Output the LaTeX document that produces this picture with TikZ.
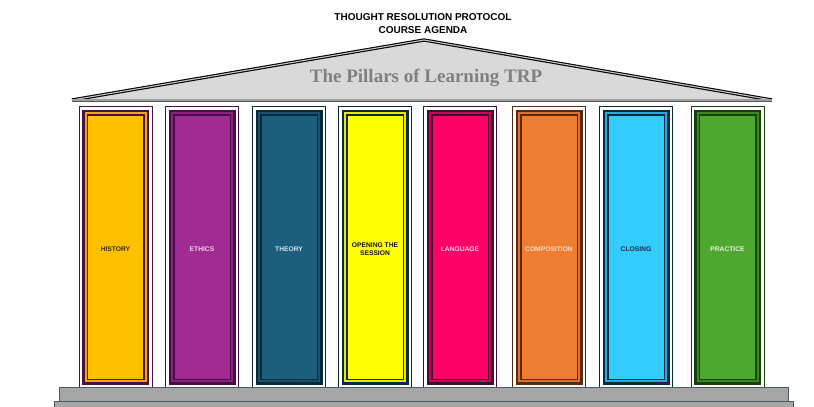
\documentclass[tikz,border=0pt]{standalone}
\usepackage{fontspec}
\setmainfont{Liberation Serif}
\setsansfont{Liberation Sans}
\usetikzlibrary{positioning}

\tikzset{
  shaft/.style={rectangle, inner sep=0pt, outer sep=0pt},
  shaft label/.style={font=\sffamily\bfseries\fontsize{6.7}{7.6}\selectfont, align=center, inner sep=0pt},
  roof line/.style={line width=1.1pt, draw=black, double=gray!45, double distance=1.1pt, line join=miter},
  beam/.style={line width=0.8pt, draw=black!65, double=gray!75, double distance=1.4pt},
  plinth/.style={fill=plinthGray, draw=plinthEdge, line width=0.9pt}
}
\definecolor{roofGray}{HTML}{D9D9D9}
\definecolor{roofText}{HTML}{808080}
\definecolor{plinthGray}{HTML}{A6A6A6}
\definecolor{plinthEdge}{HTML}{4A5A62}

\begin{document}
\begin{tikzpicture}[x=1pt,y=-1pt]
\useasboundingbox (0,0) rectangle (814,407);
% heading
\node[font=\sffamily\bfseries\fontsize{10}{13}\selectfont, align=center] (title) at (423,23.5) {THOUGHT RESOLUTION PROTOCOL\\COURSE AGENDA};
% roof
\coordinate (eaveL) at (72,100);
\coordinate (eaveR) at (772,100);
\coordinate (apex) at (424,40);
\fill[roofGray] (eaveL) -- (apex) -- (eaveR) -- cycle;
\draw[roof line] (eaveL) -- (apex) -- (eaveR);
\draw[beam] (eaveL) -- (eaveR);
\node[font=\bfseries\fontsize{19}{22}\selectfont, text=roofText] (pediment) at (426,78) {The Pillars of Learning TRP};
% pillars
\foreach \n/\cx/\fc/\dc/\sc/\tc/\txt in {
  1/115.5/FFC000/4A1048/EFA515/3B2A10/HISTORY,
  2/202/A02B93/4A0C45/8A2080/EAD4F0/ETHICS,
  3/289/1B5E7E/0A2A38/1A5070/D4E4EE/THEORY,
  4/375/FFFF00/0C2A38/E8E800/101010/{OPENING THE\\SESSION},
  5/460/FF0066/3A1030/D00055/F8D4E2/LANGUAGE,
  6/549/ED7D31/5A2A10/E07030/F8DCCC/COMPOSITION,
  7/636/33CCFF/0A2A40/2AA8E0/1A2A50/CLOSING,
  8/727.5/4EA72E/1A4010/3A8A20/EAF2E2/PRACTICE}
{
  \definecolor{pFill}{HTML}{\fc}
  \definecolor{pDark}{HTML}{\dc}
  \definecolor{pStripe}{HTML}{\sc}
  \definecolor{pText}{HTML}{\tc}
  \node[shaft, draw=pDark, line width=0.8pt, minimum width=73pt, minimum height=281pt] (shaft\n) at (\cx,247) {};
  \node[shaft, fill=pDark, minimum width=67pt, minimum height=275pt] at (shaft\n) {};
  \node[shaft, fill=pStripe, minimum width=62pt, minimum height=270pt] at (shaft\n) {};
  \node[shaft, fill=pDark, minimum width=58pt, minimum height=266pt] at (shaft\n) {};
  \node[shaft, fill=pFill, minimum width=55pt, minimum height=263pt] at (shaft\n) {};
  \node[shaft label, text=pText] (label\n) at (\cx,249) {\txt};
}
% steps
\draw[plinth] (59,387) rectangle (788,401);
\draw[plinth] (54,401) rectangle (793,410);
\end{tikzpicture}
\end{document}
